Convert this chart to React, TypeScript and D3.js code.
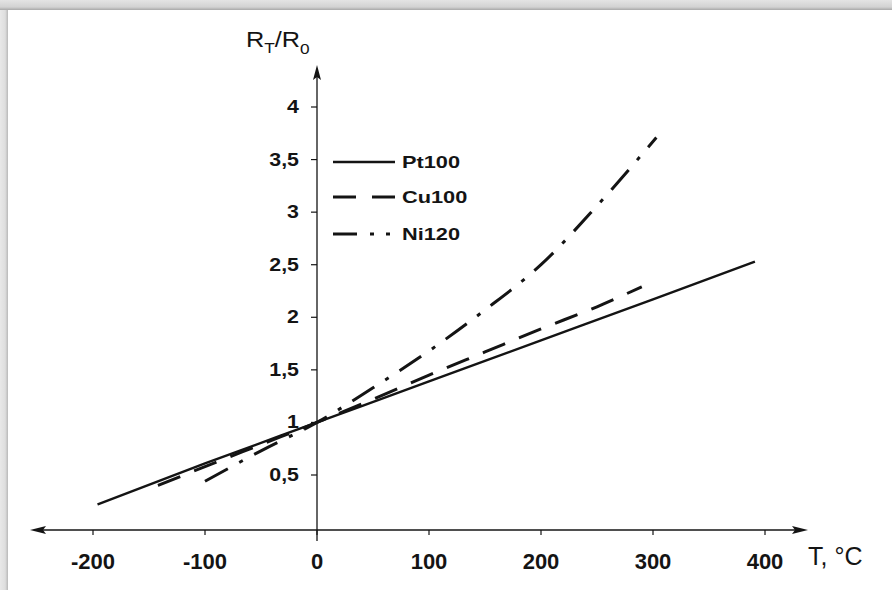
import React from "react";
import * as d3 from "d3";

const ptT = [-196, -100, 0, 100, 200, 300, 391];
const ptR = [0.22, 0.61, 1.0, 1.39, 1.78, 2.17, 2.53];

const cuT = [-142, -100, -50, 0, 50, 100, 150, 200, 250, 290];
const cuR = [0.4, 0.58, 0.79, 1.0, 1.22, 1.45, 1.67, 1.89, 2.1, 2.29];

const niT = [-100, -50, 0, 50, 100, 150, 200, 250, 303];
const niR = [0.44, 0.73, 1.0, 1.33, 1.68, 2.07, 2.5, 3.06, 3.71];

const xTicks = [-200, -100, 0, 100, 200, 300, 400];
const yTicks = [0.5, 1, 1.5, 2, 2.5, 3, 3.5, 4];
const yTickLabels = ["0,5", "1", "1,5", "2", "2,5", "3", "3,5", "4"];
const seriesNames = ["Pt100", "Cu100", "Ni120"];

const FONT = "'Liberation Sans', Arial, Helvetica, sans-serif";
const INK = "#141414";

export default function App() {
  const x = d3.scaleLinear().domain([-200, 400]).range([93, 765]);
  const y = d3.scaleLinear().domain([0.5, 4]).range([475, 107]);
  const x0 = x(0);
  const axisY = 530;

  const line = d3
    .line<[number, number]>()
    .x((d) => x(d[0]))
    .y((d) => y(d[1]))
    .curve(d3.curveMonotoneX);

  const pt = line(ptT.map((t, i) => [t, ptR[i]]) as [number, number][]) || "";
  const cu = line(cuT.map((t, i) => [t, cuR[i]]) as [number, number][]) || "";
  const ni = line(niT.map((t, i) => [t, niR[i]]) as [number, number][]) || "";

  const styles = [
    { dash: "none", w: 2.4 },
    { dash: "24,15", w: 3 },
    { dash: "26,13,4,13", w: 3 },
  ];
  const legendDash = ["none", "23,16", "24,13,4,12,4,200"];
  const legendY = [162, 197, 234];

  return (
    <svg
      width={892}
      height={590}
      style={{ position: "fixed", left: 0, top: 0, display: "block", background: "#fff" }}
    >
      <defs>
        <linearGradient id="topband" x1="0" y1="0" x2="0" y2="1">
          <stop offset="0" stopColor="#e4e4e4" />
          <stop offset="0.7" stopColor="#d2d2d2" />
          <stop offset="1" stopColor="#a8a8a8" />
        </linearGradient>
        <linearGradient id="leftband" x1="0" y1="0" x2="1" y2="0">
          <stop offset="0" stopColor="#e8e8e8" />
          <stop offset="0.65" stopColor="#dedede" />
          <stop offset="1" stopColor="#b8b8b8" />
        </linearGradient>
      </defs>
      <rect x={0} y={0} width={892} height={590} fill="#fff" />
      <rect x={0} y={0} width={8} height={590} fill="url(#leftband)" />
      <rect x={0} y={0} width={892} height={10} fill="url(#topband)" />

      {/* X axis */}
      <line x1={38} x2={796} y1={axisY} y2={axisY} stroke={INK} strokeWidth={1.4} />
      <path d={`M30,${axisY} L46,${axisY - 4} L43,${axisY} L46,${axisY + 4} Z`} fill={INK} />
      <path d={`M808,${axisY} L792,${axisY - 4} L795,${axisY} L792,${axisY + 4} Z`} fill={INK} />
      {xTicks.map((t) => (
        <g key={t}>
          <line x1={x(t)} x2={x(t)} y1={axisY} y2={axisY + 5} stroke={INK} strokeWidth={1.2} />
          <text
            x={x(t)}
            y={569}
            textAnchor="middle"
            fontFamily={FONT}
            fontSize={22}
            fontWeight="bold"
            fill={INK}
          >
            {t}
          </text>
        </g>
      ))}
      <text x={808} y={565} fontFamily={FONT} fontSize={25} fill={INK}>
        T, °C
      </text>

      {/* Y axis */}
      <line x1={x0} x2={x0} y1={75} y2={541} stroke={INK} strokeWidth={1.3} />
      <path d={`M${x0},65 L${x0 - 4},80 L${x0},77 L${x0 + 4},80 Z`} fill={INK} />
      {yTicks.map((v, i) => (
        <g key={v}>
          <line x1={x0 - 6} x2={x0} y1={y(v)} y2={y(v)} stroke={INK} strokeWidth={1.2} />
          <text
            transform={`translate(${299},${y(v) + 6}) scale(1.22,1)`}
            textAnchor="end"
            fontFamily={FONT}
            fontSize={17.5}
            fontWeight="bold"
            fill={INK}
          >
            {yTickLabels[i]}
          </text>
        </g>
      ))}
      <text
        transform="translate(246,47) scale(1.15,1)"
        fontFamily={FONT}
        fontSize={22}
        fill={INK}
      >
        R
        <tspan fontSize={15} dy={6}>T</tspan>
        <tspan dy={-6}>/R</tspan>
        <tspan fontSize={15} dy={7}>0</tspan>
      </text>

      {/* Series */}
      {[pt, cu, ni].map((d, i) => (
        <path
          key={i}
          d={d}
          fill="none"
          stroke={INK}
          strokeWidth={styles[i].w}
          strokeDasharray={styles[i].dash}
        />
      ))}

      {/* Legend */}
      {seriesNames.map((n, i) => (
        <g key={n}>
          <line
            x1={333}
            x2={395}
            y1={legendY[i]}
            y2={legendY[i]}
            stroke={INK}
            strokeWidth={i === 0 ? 2.4 : 3.2}
            strokeDasharray={legendDash[i]}
          />
          <text
            transform={`translate(402,${legendY[i] + 6}) scale(1.28,1)`}
            fontFamily={FONT}
            fontSize={17}
            fontWeight="bold"
            fill={INK}
          >
            {n}
          </text>
        </g>
      ))}
    </svg>
  );
}
